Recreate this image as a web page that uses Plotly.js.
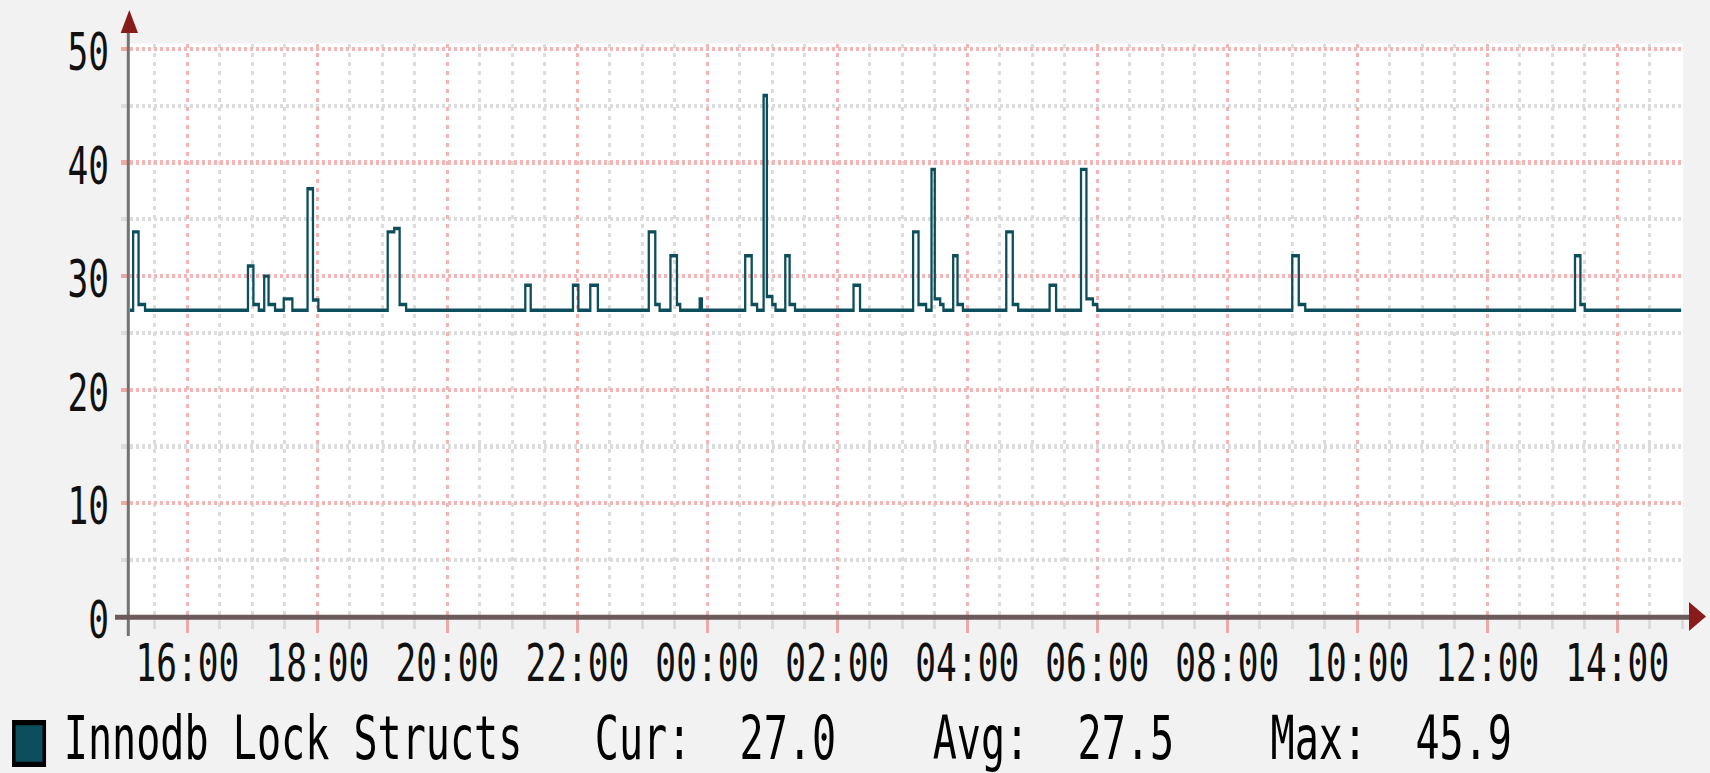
<!DOCTYPE html>
<html>
<head>
<meta charset="utf-8">
<script src="https://cdn.plot.ly/plotly-3.0.1.min.js"></script>
<style>
html, body { margin:0; padding:0; background:#f2f2f2; overflow:hidden; width:1710px; height:773px; }
#chart { width:1710px; height:522px; transform:scaleY(1.50097); transform-origin:0 0; }
</style>
</head>
<body>
<div id="chart"></div>
<script>
// ---- data (change points of a stepped RRD line) ----
const times = [
  '2024-01-01 15:05','2024-01-01 15:10','2024-01-01 15:15','2024-01-01 15:21',
  '2024-01-01 16:56','2024-01-01 17:01','2024-01-01 17:06','2024-01-01 17:11','2024-01-01 17:15','2024-01-01 17:21',
  '2024-01-01 17:29','2024-01-01 17:37',
  '2024-01-01 17:51','2024-01-01 17:56','2024-01-01 18:01',
  '2024-01-01 19:05','2024-01-01 19:11','2024-01-01 19:16','2024-01-01 19:22',
  '2024-01-01 21:12','2024-01-01 21:17',
  '2024-01-01 21:56','2024-01-01 22:01',
  '2024-01-01 22:12','2024-01-01 22:19',
  '2024-01-01 23:06','2024-01-01 23:12','2024-01-01 23:16',
  '2024-01-01 23:26','2024-01-01 23:32','2024-01-01 23:35',
  '2024-01-01 23:53','2024-01-01 23:55',
  '2024-01-02 00:35','2024-01-02 00:41','2024-01-02 00:46',
  '2024-01-02 00:52','2024-01-02 00:55','2024-01-02 01:00','2024-01-02 01:03',
  '2024-01-02 01:12','2024-01-02 01:16','2024-01-02 01:21',
  '2024-01-02 02:15','2024-01-02 02:21',
  '2024-01-02 03:10','2024-01-02 03:15','2024-01-02 03:22',
  '2024-01-02 03:27','2024-01-02 03:30','2024-01-02 03:35','2024-01-02 03:38',
  '2024-01-02 03:47','2024-01-02 03:51','2024-01-02 03:56',
  '2024-01-02 04:36','2024-01-02 04:42','2024-01-02 04:47',
  '2024-01-02 05:16','2024-01-02 05:22',
  '2024-01-02 05:45','2024-01-02 05:50','2024-01-02 05:56','2024-01-02 06:00',
  '2024-01-02 09:00','2024-01-02 09:06','2024-01-02 09:12',
  '2024-01-02 13:21','2024-01-02 13:26','2024-01-02 13:30',
  '2024-01-02 14:59'
];
const values = [
  27.0, 33.9, 27.5, 27.0,
  30.9, 27.5, 27.0, 30.0, 27.5, 27.0,
  28.0, 27.0,
  37.7, 27.9, 27.0,
  33.9, 34.2, 27.5, 27.0,
  29.2, 27.0,
  29.2, 27.0,
  29.2, 27.0,
  33.9, 27.5, 27.0,
  31.8, 27.5, 27.0,
  28.0, 27.0,
  31.8, 27.5, 27.0,
  45.9, 28.2, 27.5, 27.0,
  31.8, 27.5, 27.0,
  29.2, 27.0,
  33.9, 27.5, 27.0,
  39.4, 28.0, 27.5, 27.0,
  31.8, 27.5, 27.0,
  33.9, 27.5, 27.0,
  29.2, 27.0,
  39.4, 28.0, 27.5, 27.0,
  31.8, 27.5, 27.0,
  31.8, 27.5, 27.0,
  27.0
];
const seriesName = 'Innodb Lock Structs';
const statLabels = ['Cur:', 'Avg:', 'Max:'];
const statValues = ['27.0', '27.5', '45.9'];
const xRange = ['2024-01-01 15:07:06', '2024-01-02 15:00:42'];
const yRange = [0, 50.48];

// ---- geometry (pre-transform layout, page is stretched vertically by S) ----
const W = 1710, H = 522, S = 773 / 515;
const L = 130, R = 27, T = 29, B = 111;
const plotW = W - L - R, plotH = H - T - B;
const px = x => (x - L) / plotW;               // full-pixel x -> paper
const py = y => (H - B - y / S) / plotH;       // full-pixel y -> paper

const MONO = '"DejaVu Sans Mono", monospace';
const LINE = '#0c4e5b';
const RED = '#f3b5b5', GREY = '#dcdcdc';

const nb = n => '\u00a0'.repeat(n);
const legendText = seriesName + nb(3) +
  statLabels[0] + nb(2) + statValues[0] + nb(4) +
  statLabels[1] + nb(2) + statValues[1] + nb(4) +
  statLabels[2] + nb(2) + statValues[2];

const trace = {
  type: 'scatter', mode: 'lines', x: times, y: values,
  line: { color: LINE, width: 2.3, shape: 'hv' },
  hoverinfo: 'skip', showlegend: false
};

const layout = {
  width: W, height: H,
  margin: { l: L, r: R, t: T, b: B, pad: 0 },
  paper_bgcolor: '#f2f2f2', plot_bgcolor: '#ffffff',
  showlegend: false,
  xaxis: {
    type: 'date', range: xRange, tickformat: '%H:%M',
    tick0: '2024-01-01 00:00', dtick: 7200000,
    showgrid: true, gridcolor: RED, gridwidth: 2.7, griddash: '3px,3px',
    ticks: 'outside', ticklen: 10, tickwidth: 2.7, tickcolor: '#efa8a8',
    tickfont: { family: MONO, size: 34.5, color: '#111111' },
    ticklabelstandoff: -10,
    showline: false, zeroline: false, fixedrange: true,
    minor: { dtick: 1800000, tick0: '2024-01-01 00:00', showgrid: true, gridcolor: GREY, gridwidth: 2.7,
             griddash: '3px,3px', ticks: 'outside', ticklen: 7, tickwidth: 2.7, tickcolor: GREY }
  },
  yaxis: {
    range: yRange, tick0: 0, dtick: 10,
    showgrid: true, gridcolor: RED, gridwidth: 2.8, griddash: '3px,3px',
    ticks: 'outside', ticklen: 8, tickwidth: 2.8, tickcolor: '#efa8a8',
    tickfont: { family: MONO, size: 34.5, color: '#111111' },
    ticklabelstandoff: 5, ticklabelshift: 2,
    showline: false, zeroline: false, fixedrange: true,
    minor: { dtick: 5, tick0: 0, showgrid: true, gridcolor: GREY, gridwidth: 2.8,
             griddash: '3px,3px', ticks: 'outside', ticklen: 8, tickwidth: 2.8, tickcolor: GREY }
  },
  shapes: [
    { type: 'line', xref: 'paper', yref: 'paper', x0: px(128.3), x1: px(128.3), y0: py(636), y1: py(30),
      line: { color: '#737373', width: 3 } },
    { type: 'line', xref: 'paper', yref: 'paper', x0: px(115), x1: px(1692), y0: py(617.2), y1: py(617.2),
      line: { color: '#6b5b5b', width: 3.3 } },
    { type: 'path', xref: 'paper', yref: 'paper',
      path: `M ${px(129.3)} ${py(10)} L ${px(120.7)} ${py(33)} L ${px(138)} ${py(33)} Z`,
      fillcolor: '#861c1c', line: { width: 0 } },
    { type: 'path', xref: 'paper', yref: 'paper',
      path: `M ${px(1706)} ${py(616.5)} L ${px(1689)} ${py(602)} L ${px(1689)} ${py(631)} Z`,
      fillcolor: '#861c1c', line: { width: 0 } },
    { type: 'rect', xref: 'paper', yref: 'paper', x0: px(13.8), x1: px(44.3), y0: py(722.6), y1: py(764.4),
      fillcolor: LINE, line: { color: '#000000', width: 3.5 } }
  ],
  annotations: [
    { xref: 'paper', yref: 'paper', x: px(62), y: py(739), xanchor: 'left', yanchor: 'middle',
      text: legendText, showarrow: false, font: { family: MONO, size: 40.1, color: '#000000' } }
  ]
};

Plotly.newPlot('chart', [trace], layout, { staticPlot: true, displayModeBar: false });
</script>
</body>
</html>
